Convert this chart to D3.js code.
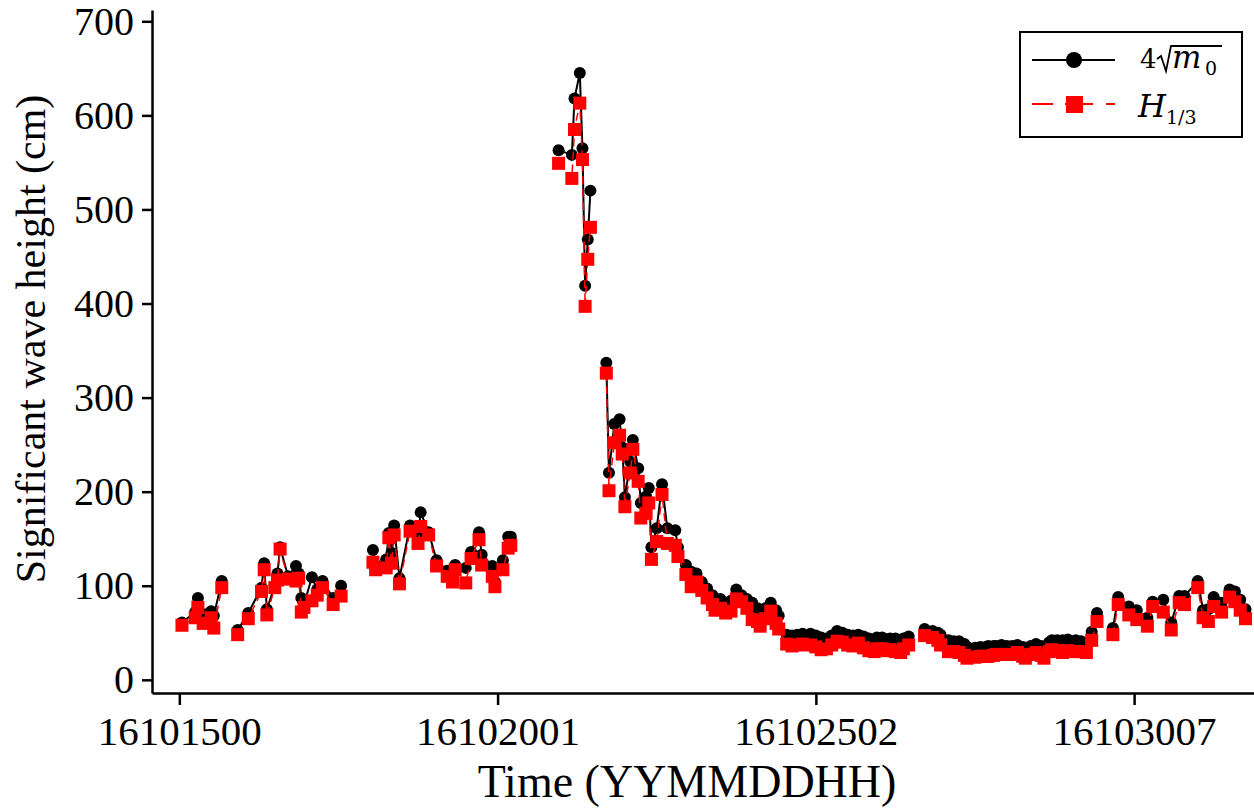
<!DOCTYPE html>
<html>
<head>
<meta charset="utf-8">
<script src="https://cdn.jsdelivr.net/npm/d3@7"></script>
<style>
  body { margin: 0; background: #fff; }
  svg { display: block; }
</style>
</head>
<body>
<svg id="chart" width="1254" height="809"></svg>
<script>
// sample index (records from 16101500) and wave heights in cm
var tIdx = [1,6,7,9,12,13,16,22,26,31,32,33,36,37,38,41,44,45,46,47,50,52,54,58,61,
  73,74,78,79,80,81,83,87,90,91,94,97,101,103,104,108,110,113,114,118,119,122,124,125,
  143,148,149,151,152,153,154,155,161,
  162,164,166,167,168,170,171,173,174,176,177,178,180,182,184,187,188,191,193,195,197,199,201,202,204,206,208,210,212,214,216,218,219,221,223,225,226,
  229,231,233,235,238,240,242,244,246,248,250,252,254,256,258,260,262,263,265,267,268,270,272,273,275,
  281,284,286,287,290,292,294,296,297,300,302,304,305,307,308,310,312,314,316,318,319,321,323,325,326,328,329,331,333,335,338,340,342,344,346,
  352,354,358,361,365,367,371,374,377,379,384,386,388,390,393,396,398,400,402];

var hm0 = [61,72,87,70,73,68,105,53,71,98,124,75,100,113,141,110,121,113,87,80,109,96,105,87,100,
  138,122,128,156,135,164,108,164,152,178,157,127,116,110,122,119,136,157,133,121,104,127,152,152,
  563,558,618,645,565,419,468,520,337,
  220,272,277,247,194,232,255,225,188,195,204,141,161,208,161,159,141,122,115,113,104,97,90,85,86,82,84,96,90,86,82,76,72,76,82,74,68,
  48,47,48,49,49,47,45,44,47,52,50,48,47,48,46,44,42,45,45,43,44,44,41,44,46,
  54,52,50,48,42,41,41,38,35,34,35,35,36,36,36,37,36,36,37,35,34,36,38,36,34,40,42,42,42,43,42,41,39,51,71,
  55,88,78,74,66,83,85,61,89,89,105,74,75,88,82,96,94,85,75];

var h13 = [58,66,77,60,66,55,98,48,65,94,117,69,98,106,139,107,105,108,72,77,84,90,98,80,89,
  125,117,119,151,124,154,102,158,145,163,154,121,110,104,117,103,129,149,122,110,99,117,140,143,
  549,533,585,613,553,397,447,481,326,
  201,252,260,240,184,220,245,211,172,177,188,128,147,197,145,143,131,112,99,104,95,87,80,74,76,71,73,86,83,76,64,62,57,65,73,60,54,
  38,36,37,38,37,35,32,33,37,41,40,37,36,39,34,31,30,33,33,31,32,30,29,33,37,
  47,45,42,37,30,30,29,26,23,24,25,25,25,26,27,27,27,27,29,25,23,27,29,26,23,30,32,31,29,31,30,30,29,42,62,
  48,80,69,64,57,78,72,53,82,80,98,66,62,78,72,88,83,74,65];

var xTickPos = [0, 120, 240, 360];
var xTickLabels = ["16101500", "16102001", "16102502", "16103007"];
var yTicks = [0, 100, 200, 300, 400, 500, 600, 700];

var svg = d3.select("#chart");
var font = "'Liberation Serif', 'Times New Roman', serif";
var mathFont = "'DejaVu Serif', 'Liberation Serif', serif";

var x = d3.scaleLinear().domain([-10.3, 405.2]).range([152, 1254]);
var y = d3.scaleLinear().domain([-14, 712]).range([693, 10]);

// split a series into connected runs (missing records break the line)
function runs(vals) {
    var out = [], cur = [];
    tIdx.forEach(function(t, i) {
        if (cur.length && t - cur[cur.length - 1][0] > 5) { out.push(cur); cur = []; }
        cur.push([t, vals[i]]);
    });
    if (cur.length) out.push(cur);
    return out;
}

var line = d3.line().x(d => x(d[0])).y(d => y(d[1]));

// 4*sqrt(m0): black line + circles
var gA = svg.append("g");
gA.selectAll("path").data(runs(hm0)).enter().append("path")
    .attr("d", line).attr("fill", "none").attr("stroke", "#000").attr("stroke-width", 2);
gA.selectAll("circle").data(tIdx).enter().append("circle")
    .attr("cx", d => x(d)).attr("cy", (d, i) => y(hm0[i])).attr("r", 6).attr("fill", "#000");

// H1/3: red dashed line + squares
var gB = svg.append("g");
gB.selectAll("path").data(runs(h13)).enter().append("path")
    .attr("d", line).attr("fill", "none").attr("stroke", "#ff0000").attr("stroke-width", 1.5)
    .attr("stroke-dasharray", "8,5");
gB.selectAll("rect").data(tIdx).enter().append("rect")
    .attr("x", d => x(d) - 6.5).attr("y", (d, i) => y(h13[i]) - 6.5)
    .attr("width", 13).attr("height", 13).attr("fill", "#ff0000");

// axes
var xAxis = svg.append("g").attr("transform", "translate(0,693)")
    .call(d3.axisBottom(x).tickValues(xTickPos).tickFormat((d, i) => xTickLabels[i])
        .tickSize(12).tickSizeOuter(0).tickPadding(11));
var yAxis = svg.append("g").attr("transform", "translate(152,0)")
    .call(d3.axisLeft(y).tickValues(yTicks).tickSize(10).tickSizeOuter(0).tickPadding(8));

[xAxis, yAxis].forEach(function(g) {
    g.select(".domain").attr("stroke", "#000").attr("stroke-width", 2.5);
    g.selectAll(".tick line").attr("stroke", "#000").attr("stroke-width", 2.5);
    g.selectAll("text").attr("font-family", font).attr("fill", "#000");
});
xAxis.selectAll("text").attr("font-size", 41);
yAxis.selectAll("text").attr("font-size", 40);

svg.append("text").text("Time (YYMMDDHH)")
    .attr("x", 687).attr("y", 797).attr("text-anchor", "middle")
    .attr("font-family", font).attr("font-size", 46);
svg.append("text").text("Significant wave height (cm)")
    .attr("transform", "translate(45,339) rotate(-90)").attr("text-anchor", "middle")
    .attr("font-family", font).attr("font-size", 42);

// legend
var lg = svg.append("g");
lg.append("rect").attr("x", 1020).attr("y", 32).attr("width", 222).attr("height", 105)
    .attr("fill", "#fff").attr("stroke", "#000").attr("stroke-width", 2);
lg.append("line").attr("x1", 1032).attr("x2", 1115).attr("y1", 60).attr("y2", 60)
    .attr("stroke", "#000").attr("stroke-width", 2);
lg.append("circle").attr("cx", 1074).attr("cy", 60).attr("r", 8).attr("fill", "#000");
lg.append("line").attr("x1", 1032).attr("x2", 1115).attr("y1", 104).attr("y2", 104)
    .attr("stroke", "#ff0000").attr("stroke-width", 2).attr("stroke-dasharray", "21,12,28,13,30");
lg.append("rect").attr("x", 1066).attr("y", 96).attr("width", 17).attr("height", 17).attr("fill", "#ff0000");

// 4 sqrt(m0)
lg.append("text").text("4").attr("x", 1140).attr("y", 68)
    .attr("font-family", mathFont).attr("font-size", 26);
lg.append("path").attr("d", "M1157,59 L1161,56 L1166,71 L1171,46 L1222,46")
    .attr("fill", "none").attr("stroke", "#000").attr("stroke-width", 1.8);
lg.append("text").text("m").attr("x", 1172).attr("y", 68)
    .attr("font-family", mathFont).attr("font-style", "italic").attr("font-size", 31);
lg.append("text").text("0").attr("x", 1205).attr("y", 75)
    .attr("font-family", mathFont).attr("font-size", 19);

// H1/3
lg.append("text").text("H").attr("x", 1138).attr("y", 117)
    .attr("font-family", mathFont).attr("font-style", "italic").attr("font-size", 32);
lg.append("text").text("1/3").attr("x", 1166).attr("y", 124)
    .attr("font-family", mathFont).attr("font-size", 19);
</script>
</body>
</html>
